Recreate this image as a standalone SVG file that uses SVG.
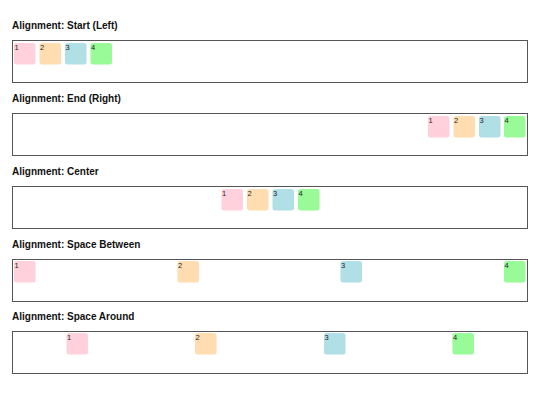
<svg xmlns="http://www.w3.org/2000/svg" width="540" height="405" viewBox="0 0 540 405">
<style>
.title{font-family:"Liberation Sans",Arial,sans-serif;font-weight:bold;font-size:10px;fill:#111}
.cont{fill:#fff;stroke:#555;stroke-width:1}
.box{stroke:none}
.n{font-family:"Liberation Sans",Arial,sans-serif;font-size:7.5px;fill:#222}
.c1{fill:#FFD1DC}.c2{fill:#FFDDB0}.c3{fill:#B0E0E6}.c4{fill:#98FB98}
</style>
<rect width="540" height="405" fill="#fff"/>
<g id="row-start">
<text class="title" x="12" y="29">Alignment: Start (Left)</text>
<rect class="cont" x="12.5" y="40.5" width="515" height="42"/>
<g id="s1"><rect class="box c1" x="14" y="43" width="21.5" height="21.5" rx="2.5"/><text class="n" x="14.5" y="49.5">1</text></g>
<g id="s2"><rect class="box c2" x="39.5" y="43" width="21.5" height="21.5" rx="2.5"/><text class="n" x="40" y="49.5">2</text></g>
<g id="s3"><rect class="box c3" x="65" y="43" width="21.5" height="21.5" rx="2.5"/><text class="n" x="65.5" y="49.5">3</text></g>
<g id="s4"><rect class="box c4" x="90.5" y="43" width="21.5" height="21.5" rx="2.5"/><text class="n" x="91" y="49.5">4</text></g>
</g>
<g id="row-end">
<text class="title" x="12" y="102">Alignment: End (Right)</text>
<rect class="cont" x="12.5" y="113.5" width="515" height="42"/>
<g id="e1"><rect class="box c1" x="428" y="116" width="21.5" height="21.5" rx="2.5"/><text class="n" x="428.5" y="122.5">1</text></g>
<g id="e2"><rect class="box c2" x="453.5" y="116" width="21.5" height="21.5" rx="2.5"/><text class="n" x="454" y="122.5">2</text></g>
<g id="e3"><rect class="box c3" x="479" y="116" width="21.5" height="21.5" rx="2.5"/><text class="n" x="479.5" y="122.5">3</text></g>
<g id="e4"><rect class="box c4" x="504" y="116" width="21.5" height="21.5" rx="2.5"/><text class="n" x="504.5" y="122.5">4</text></g>
</g>
<g id="row-center">
<text class="title" x="12" y="175">Alignment: Center</text>
<rect class="cont" x="12.5" y="186.5" width="515" height="42"/>
<g id="c1"><rect class="box c1" x="221.5" y="189" width="21.5" height="21.5" rx="2.5"/><text class="n" x="222" y="195.5">1</text></g>
<g id="c2"><rect class="box c2" x="247" y="189" width="21.5" height="21.5" rx="2.5"/><text class="n" x="247.5" y="195.5">2</text></g>
<g id="c3"><rect class="box c3" x="272.5" y="189" width="21.5" height="21.5" rx="2.5"/><text class="n" x="273" y="195.5">3</text></g>
<g id="c4"><rect class="box c4" x="298" y="189" width="21.5" height="21.5" rx="2.5"/><text class="n" x="298.5" y="195.5">4</text></g>
</g>
<g id="row-between">
<text class="title" x="12" y="248">Alignment: Space Between</text>
<rect class="cont" x="12.5" y="259.5" width="515" height="42"/>
<g id="b1"><rect class="box c1" x="14" y="261" width="21.5" height="21.5" rx="2.5"/><text class="n" x="14.5" y="267.5">1</text></g>
<g id="b2"><rect class="box c2" x="177.5" y="261" width="21.5" height="21.5" rx="2.5"/><text class="n" x="178" y="267.5">2</text></g>
<g id="b3"><rect class="box c3" x="340.5" y="261" width="21.5" height="21.5" rx="2.5"/><text class="n" x="341" y="267.5">3</text></g>
<g id="b4"><rect class="box c4" x="504" y="261" width="21.5" height="21.5" rx="2.5"/><text class="n" x="504.5" y="267.5">4</text></g>
</g>
<g id="row-around">
<text class="title" x="12" y="320">Alignment: Space Around</text>
<rect class="cont" x="12.5" y="331.5" width="515" height="42"/>
<g id="a1"><rect class="box c1" x="66.5" y="333" width="21.5" height="21.5" rx="2.5"/><text class="n" x="67" y="339.5">1</text></g>
<g id="a2"><rect class="box c2" x="195" y="333" width="21.5" height="21.5" rx="2.5"/><text class="n" x="195.5" y="339.5">2</text></g>
<g id="a3"><rect class="box c3" x="324" y="333" width="21.5" height="21.5" rx="2.5"/><text class="n" x="324.5" y="339.5">3</text></g>
<g id="a4"><rect class="box c4" x="452.5" y="333" width="21.5" height="21.5" rx="2.5"/><text class="n" x="453" y="339.5">4</text></g>
</g>
</svg>
